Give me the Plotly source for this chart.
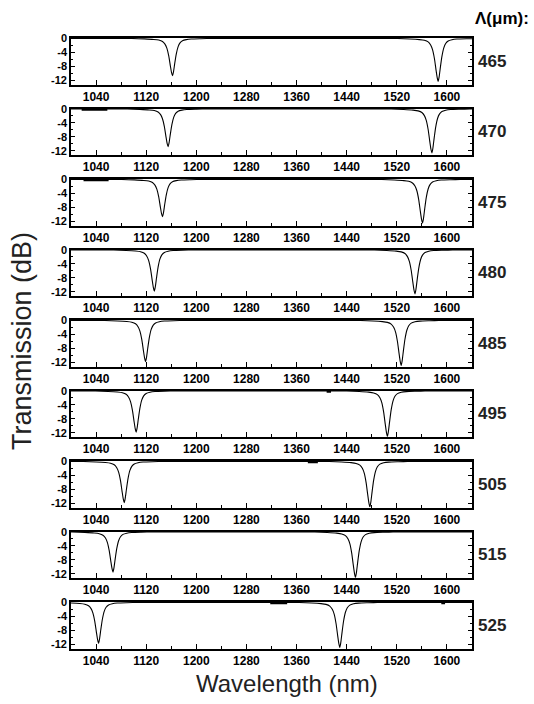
import plotly.graph_objects as go

# ---------------- data ----------------
periods_um = ["465", "470", "475", "480", "485", "495", "505", "515", "525"]
dip1_center_nm = [1162, 1155, 1146, 1133, 1119, 1104, 1085, 1067, 1044]
dip2_center_nm = [1586, 1576, 1561, 1549, 1527, 1505, 1477, 1454, 1429]
dip1_depth_db = [-10.7, -10.8, -10.7, -11.8, -11.8, -11.8, -11.8, -11.5, -11.7]
dip2_depth_db = [-12.3, -12.6, -12.5, -12.6, -12.9, -13.0, -13.0, -13.0, -12.9]

# measured dip profile (offset from dip centre, dB for a 12 dB deep dip)
dip_offset_nm = [-65, -45, -30, -22, -16, -12, -9, -6, -3.5, -1.5, 0,
                 1.5, 3.5, 6, 9, 12, 16, 22, 30, 45, 60]
dip_shape_db = [0.0, -0.12, -0.3, -0.5, -0.95, -1.8, -3.1, -5.6, -8.7, -11.0, -12.0,
                -10.8, -8.1, -5.0, -2.6, -1.4, -0.7, -0.35, -0.15, -0.05, 0.0]

# short thicker segments visible on the 0 dB line
thick_panel = [1, 2, 5, 6, 8, 8]
thick_start_nm = [1017, 1020, 1408, 1378, 1318, 1591]
thick_end_nm = [1058, 1060, 1415, 1394, 1345, 1597]

x_tick_vals = [1040, 1120, 1200, 1280, 1360, 1440, 1520, 1600]
x_tick_text = ["1040", "1120", "1200", "1280", "1360", "1440", "1520", "1600"]
x_minor_vals = [1000, 1080, 1160, 1240, 1320, 1400, 1480, 1560, 1640]
y_tick_vals = [0, -4, -8, -12]
y_tick_text = ["0", "-4", "-8", "-12"]
y_minor_vals = [-2, -6, -10]
x_range = [1000, 1640]
y_range = [-13.2, 0.15]

# ---------------- layout geometry ----------------
W, H = 534, 704
left_px, right_px = 71, 472
top0_px, period_px, panel_h_px = 38, 70.5, 46.5
FONT = "Liberation Sans, Arial, Helvetica, sans-serif"

fig = go.Figure()
layout = dict(
    width=W, height=H,
    margin=dict(l=0, r=0, t=0, b=0, autoexpand=False),
    paper_bgcolor="white", plot_bgcolor="white",
    showlegend=False,
    annotations=[],
)

shape_min = min(dip_shape_db)
n = len(periods_um)
for i in range(n):
    sfx = "" if i == 0 else str(i + 1)
    xa, ya = "x" + sfx, "y" + sfx
    d1, d2 = dip1_depth_db[i] / shape_min, dip2_depth_db[i] / shape_min
    xs = [x_range[0]] + [dip1_center_nm[i] + o for o in dip_offset_nm] \
        + [dip2_center_nm[i] + o for o in dip_offset_nm] + [x_range[1]]
    ys = [0.0] + [v * d1 for v in dip_shape_db] + [v * d2 for v in dip_shape_db] + [0.0]
    fig.add_trace(go.Scatter(x=xs, y=ys, mode="lines", xaxis=xa, yaxis=ya,
                             line=dict(color="black", width=1.1, shape="spline", smoothing=0.6),
                             hoverinfo="skip"))
    for p, s, e in zip(thick_panel, thick_start_nm, thick_end_nm):
        if p == i:
            fig.add_trace(go.Scatter(x=[s, e], y=[-0.1, -0.1], mode="lines", xaxis=xa, yaxis=ya,
                                     line=dict(color="black", width=2.6), hoverinfo="skip"))

    top = top0_px + period_px * i
    bot = top + panel_h_px
    layout["xaxis" + sfx] = dict(
        domain=[left_px / W, right_px / W], anchor=ya, range=x_range,
        tickvals=x_tick_vals, ticktext=x_tick_text,
        ticks="inside", ticklen=5, tickwidth=1.3, tickcolor="black",
        minor=dict(tickvals=x_minor_vals, ticks="inside", ticklen=3, tickwidth=1.1, tickcolor="black"),
        showline=True, linewidth=1.6, linecolor="black", mirror=True,
        showgrid=False, zeroline=False,
        tickfont=dict(family=FONT, size=12, color="black", weight="bold"),
    )
    layout["yaxis" + sfx] = dict(
        domain=[1 - bot / H, 1 - top / H], anchor=xa, range=y_range,
        tickvals=y_tick_vals, ticktext=y_tick_text,
        ticks="inside", ticklen=4, tickwidth=1.3, tickcolor="black",
        minor=dict(tickvals=y_minor_vals, ticks="inside", ticklen=2, tickwidth=1.1, tickcolor="black"),
        showline=True, linewidth=1.6, linecolor="black", mirror="ticks",
        showgrid=False, zeroline=False,
        tickfont=dict(family=FONT, size=11, color="black", weight="bold"),
    )
    layout["annotations"].append(dict(
        text=periods_um[i], xref="paper", yref="paper",
        x=476 / W, y=1 - (top + panel_h_px / 2) / H, xanchor="left", yanchor="middle",
        showarrow=False, font=dict(family=FONT, size=17, color="#222", weight="bold")))

layout["annotations"].append(dict(
    text="Λ(μm):", xref="paper", yref="paper", x=531 / W, y=1 - 19 / H,
    xanchor="right", yanchor="middle", showarrow=False,
    font=dict(family=FONT, size=17, color="black", weight="bold")))
layout["annotations"].append(dict(
    text="Wavelength (nm)", xref="paper", yref="paper", x=287 / W, y=1 - 683 / H,
    xanchor="center", yanchor="middle", showarrow=False,
    font=dict(family=FONT, size=24, color="#222")))
layout["annotations"].append(dict(
    text="Transmission (dB)", xref="paper", yref="paper", x=22 / W, y=1 - 341 / H,
    xanchor="center", yanchor="middle", textangle=-90, showarrow=False,
    font=dict(family=FONT, size=27, color="#222")))

fig.update_layout(**layout)
fig.write_html("out.html", config={"displayModeBar": False},
               post_script="document.body.style.margin='0';")
